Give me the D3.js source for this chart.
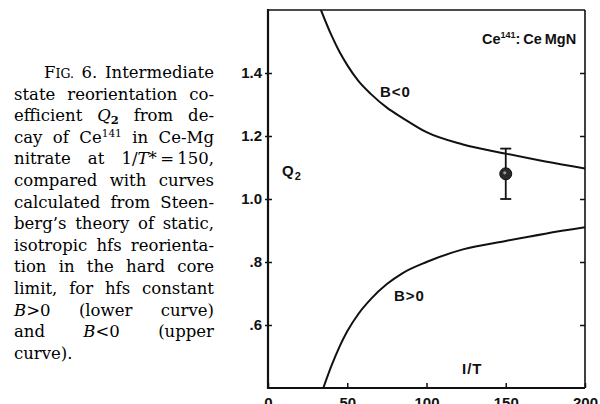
<!DOCTYPE html>
<html>
<head>
<meta charset="utf-8">
<script src="https://cdn.jsdelivr.net/npm/d3@7"></script>
<style>
  html, body { margin: 0; padding: 0; background: #fff; }
  svg { display: block; }
</style>
</head>
<body>
<svg id="chart" width="600" height="404"></svg>
<script>
// values
const xTicks = [0, 50, 100, 150, 200]
const yTicks = [0.6, 0.8, 1.0, 1.2, 1.4]
const yTickLabels = ['.6', '.8', '1.0', '1.2', '1.4']

// B<0 (upper curve)
const negX = [33.4, 40, 45, 50, 57, 65, 75, 85, 100, 123, 150, 175, 200]
const negY = [1.60, 1.52, 1.468, 1.425, 1.375, 1.333, 1.29, 1.257, 1.212, 1.173, 1.144, 1.119, 1.097]
// B>0 (lower curve)
const posX = [34.9, 40, 45, 50, 57, 65, 75, 85, 100, 123, 150, 175, 200]
const posY = [0.40, 0.47, 0.53, 0.58, 0.635, 0.683, 0.73, 0.765, 0.80, 0.84, 0.867, 0.89, 0.91]

// measured point with error bar
const ptX = [150]
const ptY = [1.08]
const ptLow = [1.0]
const ptHigh = [1.16]

// caption, ~x~ italic, ^x^ superscript, _x_ subscript, {x} small caps
const captionLines = [
  'F{IG.} 6. Intermediate',
  'state reorientation co-',
  'efficient ~Q~_2_ from de-',
  'cay of Ce^141^ in Ce-Mg',
  'nitrate at 1/~T~*\u2009=\u2009150,',
  'compared with curves',
  'calculated from Steen-',
  'berg\u2019s theory of static,',
  'isotropic hfs reorienta-',
  'tion in the hard core',
  'limit, for hfs constant',
  '~B~>0 (lower curve)',
  'and ~B~<0 (upper',
  'curve).'
]

const svg = d3.select('#chart')
const width = 600, height = 404
const marginLeft = 268, marginRight = 15, marginTop = 10, marginBottom = 16

const x = d3.scaleLinear([0, 200], [marginLeft, width - marginRight])
const y = d3.scaleLinear([0.4, 1.6], [height - marginBottom, marginTop])

const sans = 'Liberation Sans, Arial, sans-serif'

// ---- caption ----
const cap = svg.append('g')
  .attr('font-family', 'DejaVu Serif, serif')
  .attr('font-size', 16.5)
  .attr('fill', '#000')

function parseWord(w) {
  const out = []
  const re = /~([^~]+)~|\^([^^]+)\^|_([^_]+)_|\{([^}]+)\}|([^~^_{]+)/g
  let m
  while ((m = re.exec(w)) !== null) {
    if (m[1]) out.push({t: m[1], k: 'i'})
    else if (m[2]) out.push({t: m[2], k: 'sup'})
    else if (m[3]) out.push({t: m[3], k: 'sub'})
    else if (m[4]) out.push({t: m[4], k: 'sc'})
    else out.push({t: m[5], k: 'n'})
  }
  return out
}

const capLeft = 14, capRight = 214, capTop = 78, capStep = 21.6
captionLines.forEach((line, li) => {
  const yy = capTop + li * capStep
  const left = li === 0 ? 44 : capLeft
  const words = line.split(' ')
  const nodes = words.map(w => {
    const t = cap.append('text').attr('y', yy)
    parseWord(w).forEach(s => {
      const ts = t.append('tspan').text(s.t)
      if (s.k === 'i') ts.attr('font-style', 'italic')
      if (s.k === 'sup') ts.attr('font-size', 10.5).attr('dy', -6)
      if (s.k === 'sub') ts.attr('font-size', 11.5).attr('dy', 3).attr('font-weight', 'bold')
      if (s.k === 'sc') ts.attr('font-size', 12.5)
    })
    return t
  })
  const widths = nodes.map(n => n.node().getComputedTextLength())
  const total = d3.sum(widths)
  const last = li === captionLines.length - 1
  const gap = (last || nodes.length < 2) ? 5 : Math.max(2, (capRight - left - total) / (nodes.length - 1))
  let cx = left
  nodes.forEach((n, i) => {
    n.attr('x', cx)
    cx += widths[i] + gap
  })
})

// ---- axes ----
const axisText = g => g.selectAll('text')
  .attr('font-family', sans)
  .attr('font-weight', 'bold')
  .attr('font-size', 15)
  .attr('fill', '#111')

svg.append('g')
  .attr('transform', `translate(0,${height - marginBottom})`)
  .call(d3.axisBottom(x).tickValues(xTicks).tickSizeInner(-5).tickSizeOuter(0).tickPadding(9))
  .call(g => g.select('.domain').remove())
  .call(g => g.selectAll('.tick line').attr('stroke', '#111').attr('stroke-width', 1.5))
  .call(axisText)

svg.append('g')
  .attr('transform', `translate(${marginLeft},0)`)
  .call(d3.axisLeft(y).tickValues(yTicks).tickFormat((d, i) => yTickLabels[i])
    .tickSizeInner(-4).tickSizeOuter(0).tickPadding(6))
  .call(g => g.select('.domain').remove())
  .call(g => g.selectAll('.tick line').attr('x1', -3).attr('stroke', '#111').attr('stroke-width', 1.5))
  .call(axisText)

svg.append('g')
  .attr('transform', `translate(${width - marginRight},0)`)
  .call(d3.axisRight(y).tickValues(yTicks).tickFormat('').tickSizeInner(-5).tickSizeOuter(0))
  .call(g => g.select('.domain').remove())
  .call(g => g.selectAll('.tick line').attr('stroke', '#111').attr('stroke-width', 1.5))

// frame
const frame = svg.append('g').attr('stroke', '#111').attr('fill', 'none')
frame.append('line').attr('x1', x(0)).attr('x2', x(200)).attr('y1', y(1.6)).attr('y2', y(1.6)).attr('stroke-width', 1.6)
frame.append('line').attr('x1', x(200)).attr('x2', x(200)).attr('y1', y(1.6)).attr('y2', y(0.4)).attr('stroke-width', 1.6)
frame.append('line').attr('x1', x(0)).attr('x2', x(0)).attr('y1', y(1.6) - 1).attr('y2', y(0.4) + 1).attr('stroke-width', 2.2)
frame.append('line').attr('x1', x(0) - 1).attr('x2', x(200)).attr('y1', y(0.4)).attr('y2', y(0.4)).attr('stroke-width', 2.2)

// ---- curves ----
svg.append('clipPath').attr('id', 'plot')
  .append('rect').attr('x', x(0)).attr('y', y(1.6)).attr('width', x(200) - x(0)).attr('height', y(0.4) - y(1.6))

const line = d3.line().x(d => x(d[0])).y(d => y(d[1])).curve(d3.curveMonotoneX)
const curves = [d3.zip(negX, negY), d3.zip(posX, posY)]
svg.append('g').attr('clip-path', 'url(#plot)')
  .selectAll('path').data(curves).join('path')
  .attr('d', line)
  .attr('fill', 'none')
  .attr('stroke', '#111')
  .attr('stroke-width', 2)

// ---- data point ----
const pts = d3.range(ptX.length).map(i => ({x: ptX[i], y: ptY[i], lo: ptLow[i], hi: ptHigh[i]}))
const pg = svg.append('g').attr('stroke', '#111')
pts.forEach(p => {
  pg.append('line').attr('x1', x(p.x)).attr('x2', x(p.x)).attr('y1', y(p.lo)).attr('y2', y(p.hi)).attr('stroke-width', 1.8)
  pg.append('line').attr('x1', x(p.x) - 5.5).attr('x2', x(p.x) + 5.5).attr('y1', y(p.lo)).attr('y2', y(p.lo)).attr('stroke-width', 1.8)
  pg.append('line').attr('x1', x(p.x) - 5.5).attr('x2', x(p.x) + 5.5).attr('y1', y(p.hi)).attr('y2', y(p.hi)).attr('stroke-width', 1.8)
  pg.append('circle').attr('cx', x(p.x)).attr('cy', y(p.y)).attr('r', 6).attr('fill', '#2a2a2a').attr('stroke-width', 1)
  pg.append('circle').attr('cx', x(p.x) - 1).attr('cy', y(p.y) - 1).attr('r', 1.6).attr('fill', '#999').attr('stroke', 'none')
})

// ---- labels ----
const lab = svg.append('g')
  .attr('font-family', sans)
  .attr('font-weight', 'bold')
  .attr('font-size', 15)
  .attr('fill', '#111')

lab.append('text').attr('x', 380).attr('y', 97).attr('letter-spacing', 1).text('B<0')
lab.append('text').attr('x', 394).attr('y', 301).attr('letter-spacing', 1).text('B>0')
lab.append('text').attr('x', 462).attr('y', 374).attr('letter-spacing', 1).text('I/T')

const q = lab.append('text').attr('x', 282).attr('y', 176)
q.append('tspan').text('Q')
q.append('tspan').attr('font-size', 11).attr('dy', 4).attr('dx', 1).text('2')

const ttl = lab.append('text').attr('x', 482).attr('y', 44).attr('font-size', 14.5)
ttl.append('tspan').text('Ce')
ttl.append('tspan').attr('font-size', 9).attr('dy', -6).text('141')
ttl.append('tspan').attr('dy', 6).text(':\u2009Ce\u2009MgN')
</script>
</body>
</html>
